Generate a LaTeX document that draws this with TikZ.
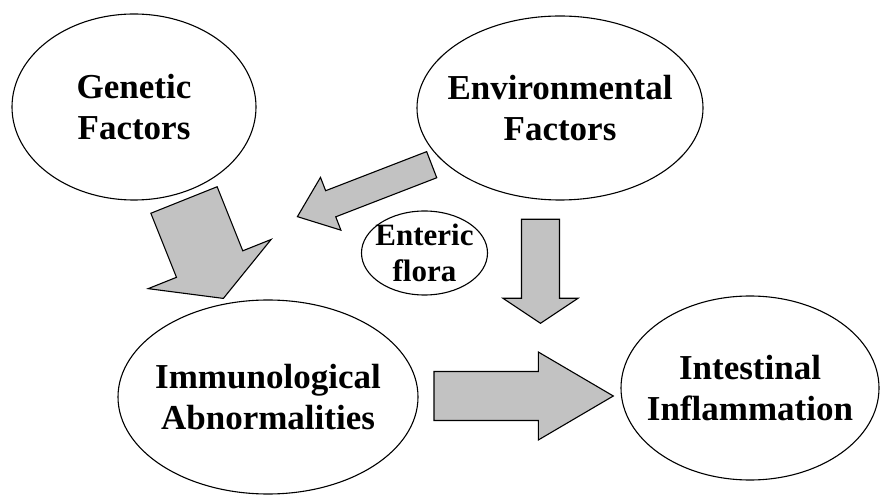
\documentclass[tikz,border=0pt]{standalone}
\usepackage{fontspec}
\setmainfont{Liberation Serif}
\usetikzlibrary{shapes.geometric}

% block arrow: tail point, direction, length, shaft half width, head half width, head length
\newcommand{\flowarrow}[6]{%
  \begin{scope}[shift={#1}, rotate=#2]
    \draw[blockarrow] (0,-#4) -- (#3-#6,-#4) -- (#3-#6,-#5) -- (#3,0)
      -- (#3-#6,#5) -- (#3-#6,#4) -- (0,#4) -- cycle;
  \end{scope}}

\begin{document}
\begin{tikzpicture}[
  x=1pt, y=1pt,
  factor/.style={draw, ellipse, line width=1.1pt, fill=white, inner xsep=-30pt, inner ysep=0pt,
    align=center, font=\fontsize{35}{41}\selectfont\bfseries},
  small/.style={factor, font=\fontsize{31}{36}\selectfont\bfseries},
  blockarrow/.style={draw, line width=1.1pt, fill=black!24, line join=miter}
]
\useasboundingbox (0,0) rectangle (880,495);

\node[factor, minimum width=244pt, minimum height=186pt] (gen) at (134,388) {Genetic\\Factors};
\node[factor, minimum width=286pt, minimum height=184pt] (env) at (560,387) {Environmental\\Factors};
\node[small, minimum width=126pt, minimum height=84pt] (flora) at (424.5,242) {Enteric\\flora};
\node[factor, minimum width=300pt, minimum height=194pt] (imm) at (268,98) {Immunological\\Abnormalities};
\node[factor, minimum width=258pt, minimum height=184pt] (infl) at (750,107) {Intestinal\\Inflammation};

% block arrows between the factors
\flowarrow{(184,295)}{-68.2}{106}{35.7}{66.2}{37}
\flowarrow{(431.7,330.3)}{201.15}{144}{14}{28.3}{35.7}
\flowarrow{(540.5,275.7)}{-90}{104}{19}{37.5}{25}
\flowarrow{(434,99)}{0}{179.3}{24.5}{44}{75}
\end{tikzpicture}
\end{document}
